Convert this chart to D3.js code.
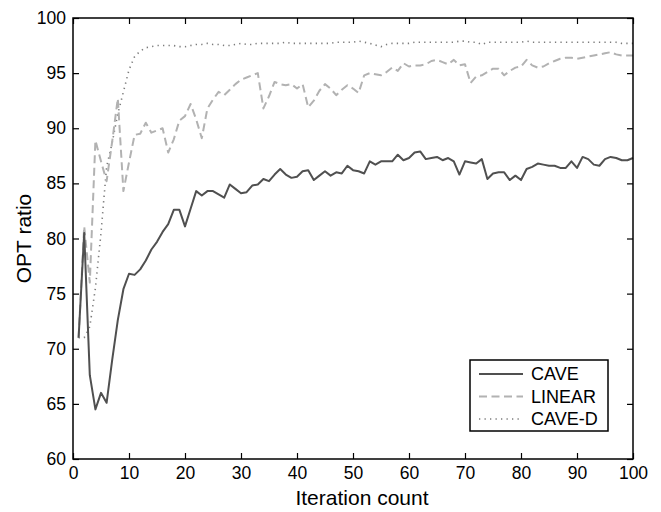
<!DOCTYPE html>
<html>
<head>
<meta charset="utf-8">
<script src="https://cdn.jsdelivr.net/npm/d3@7"></script>
<style>
  body { margin: 0; background: #fff; }
  svg text { font-family: "Liberation Sans", Arial, sans-serif; fill: #000; }
</style>
</head>
<body>
<svg id="chart"></svg>
<script>
// series values, iteration 1..100
let cave = [71.0, 80.5, 67.6, 64.5, 66.0, 65.1, 69.0, 72.6, 75.4, 76.8,
  76.7, 77.2, 78.0, 79.0, 79.7, 80.6, 81.3, 82.6, 82.6, 81.1,
  82.7, 84.3, 83.9, 84.3, 84.3, 84.0, 83.7, 84.9, 84.5, 84.1,
  84.2, 84.8, 84.9, 85.4, 85.2, 85.8, 86.3, 85.8, 85.5, 85.6,
  86.1, 86.2, 85.3, 85.7, 86.1, 85.7, 86.0, 85.9, 86.6, 86.2,
  86.1, 85.9, 87.0, 86.7, 87.0, 87.0, 87.0, 87.6, 87.1, 87.3,
  87.8, 87.9, 87.2, 87.3, 87.4, 87.1, 87.3, 87.0, 85.8, 87.0,
  86.9, 86.8, 87.2, 85.4, 85.9, 86.0, 86.0, 85.3, 85.7, 85.3,
  86.3, 86.5, 86.8, 86.7, 86.6, 86.6, 86.4, 86.4, 87.0, 86.4,
  87.4, 87.2, 86.7, 86.6, 87.2, 87.4, 87.3, 87.1, 87.1, 87.3];

let linear = [71.0, 81.1, 76.0, 88.9, 87.0, 85.2, 88.8, 92.7, 84.3, 86.9,
  89.4, 89.5, 90.5, 89.6, 89.8, 90.0, 87.8, 89.0, 90.7, 91.1,
  92.2, 90.8, 89.1, 91.8, 92.6, 93.3, 93.0, 93.5, 94.0, 94.4,
  94.6, 94.8, 95.0, 91.8, 92.9, 94.2, 94.0, 93.9, 94.0, 93.6,
  94.0, 91.9, 92.5, 93.4, 94.0, 93.6, 93.0, 93.5, 93.9, 93.6,
  93.2, 94.8, 95.0, 94.9, 94.8, 95.1, 95.5, 95.2, 95.9, 95.6,
  95.7, 95.7, 95.8, 96.1, 96.2, 96.0, 95.8, 96.2, 95.7, 95.8,
  94.1, 94.7, 94.8, 95.1, 95.4, 95.4, 94.8, 95.2, 95.5, 95.6,
  96.2, 95.7, 95.5, 95.6, 95.9, 96.1, 96.3, 96.4, 96.4, 96.3,
  96.4, 96.5, 96.6, 96.7, 96.8, 96.9, 96.7, 96.6, 96.6, 96.6];

let caveD = [71.0, 71.0, 72.0, 75.5, 80.5, 86.5, 88.7, 91.3, 93.3, 95.3,
  96.5, 97.0, 97.3, 97.4, 97.5, 97.5, 97.5, 97.5, 97.4, 97.4,
  97.5, 97.6, 97.6, 97.7, 97.6, 97.6, 97.5, 97.5, 97.6, 97.7,
  97.6, 97.6, 97.7, 97.7, 97.7, 97.7, 97.7, 97.8, 97.7, 97.7,
  97.7, 97.7, 97.7, 97.7, 97.7, 97.7, 97.8, 97.8, 97.8, 97.8,
  97.9, 97.8, 97.7, 97.55, 97.4, 97.6, 97.7, 97.7, 97.7, 97.7,
  97.8, 97.8, 97.8, 97.8, 97.8, 97.8, 97.8, 97.8, 97.9, 97.9,
  97.8, 97.8, 97.6, 97.8, 97.8, 97.8, 97.8, 97.8, 97.8, 97.8,
  97.9, 97.8, 97.8, 97.8, 97.8, 97.8, 97.8, 97.8, 97.8, 97.8,
  97.8, 97.8, 97.8, 97.8, 97.8, 97.8, 97.8, 97.7, 97.7, 97.7];

let seriesNames = ["CAVE", "LINEAR", "CAVE-D"];
let xTicks = [0, 10, 20, 30, 40, 50, 60, 70, 80, 90, 100];
let yTicks = [60, 65, 70, 75, 80, 85, 90, 95, 100];

function getConfig() {
  let width = 661;
  let height = 512;
  let margin = { top: 18, bottom: 53, left: 73, right: 28 };
  let bodyWidth = width - margin.left - margin.right;
  let bodyHeight = height - margin.top - margin.bottom;
  let container = d3.select("#chart")
    .attr("width", width)
    .attr("height", height);
  return { width, height, margin, bodyWidth, bodyHeight, container };
}

function getScales(config) {
  let { bodyWidth, bodyHeight } = config;
  let xScale = d3.scaleLinear().domain([0, 100]).range([0, bodyWidth]);
  let yScale = d3.scaleLinear().domain([60, 100]).range([bodyHeight, 0]);
  return { xScale, yScale };
}

function drawLines(scales, config) {
  let { margin, container } = config;
  let { xScale, yScale } = scales;

  let body = container.append("g")
    .attr("transform", `translate(${margin.left},${margin.top})`);

  let line = d3.line()
    .x((d, i) => xScale(i + 1))
    .y(d => yScale(d));

  let styles = [
    { data: caveD, color: "#7c7c7c", width: 1.6, dash: "1.3,4.2" },
    { data: linear, color: "#b2b2b2", width: 2, dash: "8,4.5" },
    { data: cave, color: "#505050", width: 2, dash: null }
  ];

  styles.forEach(s => {
    body.append("path")
      .datum(s.data)
      .attr("d", line)
      .attr("fill", "none")
      .attr("stroke", s.color)
      .attr("stroke-width", s.width)
      .attr("stroke-linejoin", "round")
      .attr("stroke-dasharray", s.dash);
  });

  return styles;
}

function drawAxes(scales, config) {
  let { xScale, yScale } = scales;
  let { container, margin, bodyWidth, bodyHeight } = config;

  let axisX = d3.axisBottom(xScale).tickValues(xTicks).tickSize(-6).tickSizeOuter(0).tickPadding(8);
  let axisY = d3.axisLeft(yScale).tickValues(yTicks).tickSize(-6).tickSizeOuter(0).tickPadding(7);
  let axisTop = d3.axisTop(xScale).tickValues(xTicks).tickSize(-6).tickSizeOuter(0).tickFormat("");
  let axisRight = d3.axisRight(yScale).tickValues(yTicks).tickSize(-6).tickSizeOuter(0).tickFormat("");

  let gX = container.append("g")
    .attr("transform", `translate(${margin.left},${margin.top + bodyHeight})`)
    .call(axisX);
  let gY = container.append("g")
    .attr("transform", `translate(${margin.left},${margin.top})`)
    .call(axisY);
  let gT = container.append("g")
    .attr("transform", `translate(${margin.left},${margin.top})`)
    .call(axisTop);
  let gR = container.append("g")
    .attr("transform", `translate(${margin.left + bodyWidth},${margin.top})`)
    .call(axisRight);

  [gX, gY, gT, gR].forEach(g => {
    g.select(".domain").remove();
    g.selectAll(".tick line").attr("stroke", "#000").attr("stroke-width", 1.2);
    g.selectAll("text").attr("font-size", 17.5).attr("font-family", null);
  });

  // frame
  container.append("rect")
    .attr("x", margin.left)
    .attr("y", margin.top)
    .attr("width", bodyWidth)
    .attr("height", bodyHeight)
    .attr("fill", "none")
    .attr("stroke", "#000")
    .attr("stroke-width", 1.5);

  container.append("text")
    .attr("x", 362)
    .attr("y", 505)
    .attr("text-anchor", "middle")
    .attr("font-size", 21)
    .text("Iteration count");

  container.append("text")
    .attr("transform", `translate(31,${margin.top + bodyHeight / 2}) rotate(-90)`)
    .attr("text-anchor", "middle")
    .attr("font-size", 21)
    .text("OPT ratio");

  return { gX, gY };
}

function drawLegend(styles, config) {
  let { container } = config;
  let lg = container.append("g").attr("transform", "translate(470,360)");
  lg.append("rect")
    .attr("width", 138)
    .attr("height", 71)
    .attr("fill", "#fff")
    .attr("stroke", "#000")
    .attr("stroke-width", 1.5);

  let order = [styles[2], styles[1], styles[0]];
  order.forEach((s, i) => {
    let y = 14 + i * 22.5;
    lg.append("line")
      .attr("x1", 9).attr("x2", 53)
      .attr("y1", y).attr("y2", y)
      .attr("stroke", s.color)
      .attr("stroke-width", s.width)
      .attr("stroke-dasharray", s.dash);
    lg.append("text")
      .attr("x", 61)
      .attr("y", y)
      .attr("dy", "0.36em")
      .attr("font-size", 18)
      .text(seriesNames[i]);
  });
}

let config = getConfig();
let scales = getScales(config);
let styles = drawLines(scales, config);
drawAxes(scales, config);
drawLegend(styles, config);
</script>
</body>
</html>
